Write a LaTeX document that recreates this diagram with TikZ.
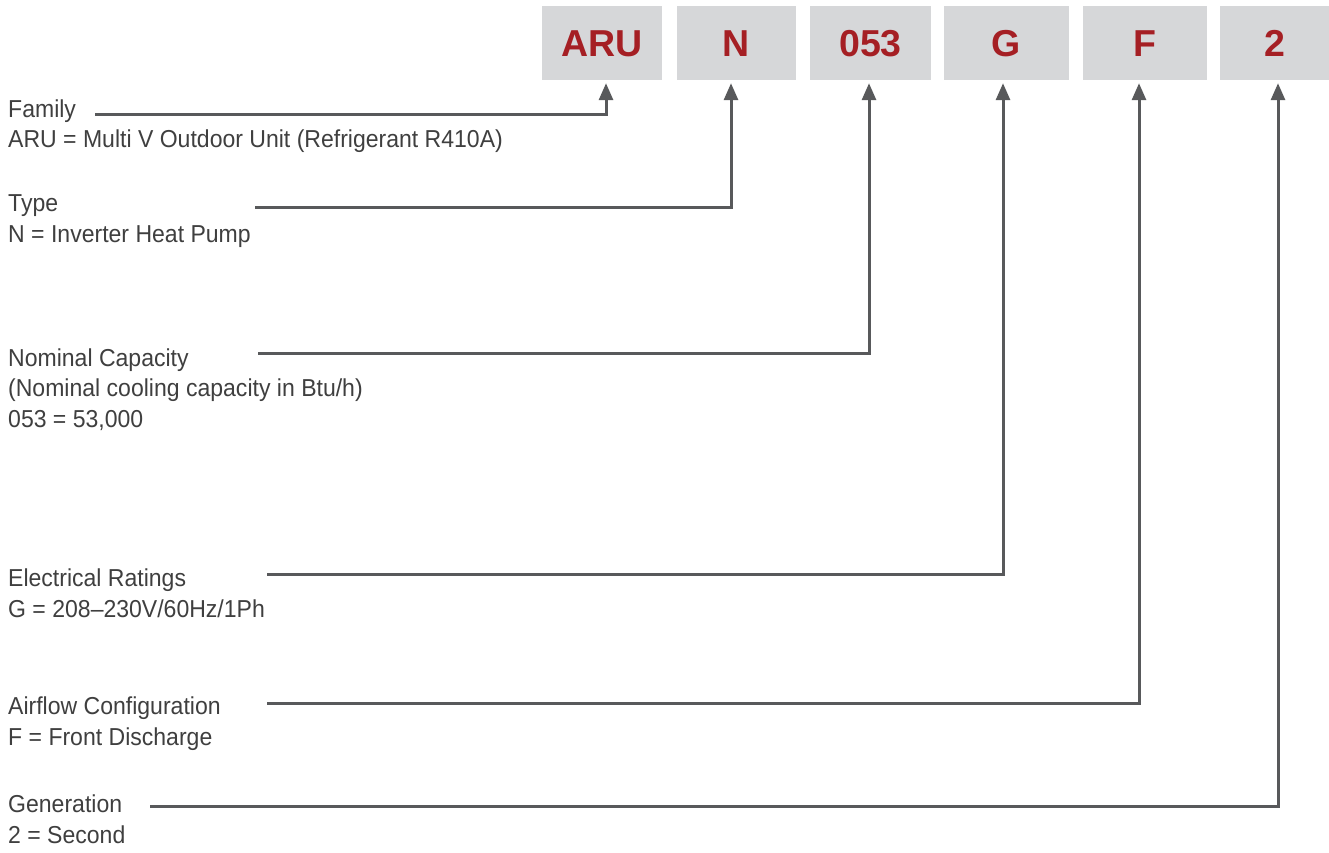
\documentclass[tikz,border=0pt]{standalone}
\usepackage{fontspec}
\setmainfont{Liberation Sans}[FakeStretch=0.94]
\newfontfamily\codefont{Liberation Sans}
\usetikzlibrary{arrows.meta, positioning}
\definecolor{lgbox}{HTML}{D6D7D9}
\definecolor{lgred}{HTML}{A51F24}
\definecolor{lgtext}{HTML}{3F3F3F}
\definecolor{lgline}{HTML}{58595B}

\begin{document}
\begin{tikzpicture}[
  x=1pt, y=-1pt,
  code/.style={fill=lgbox, minimum height=74pt, inner sep=0pt, text=lgred,
    text height=27pt, text depth=0pt,
    font=\codefont\fontsize{37.5}{40}\selectfont\bfseries},
  desc/.style={anchor=base west, align=left, inner sep=0pt, text=lgtext,
    font=\fontsize{24.5}{30.5}\selectfont},
  arr/.style={lgline, line width=3pt, -{Triangle[length=17pt,width=14pt]},
    shorten >=3pt}
]
  \useasboundingbox (0,0) rectangle (1329,852);
  % model code boxes
  \node[code, minimum width=120pt] (aru)  at (602,43)    {ARU};
  \node[code, minimum width=119pt] (typ)  at (736.5,43)  {N};
  \node[code, minimum width=121pt] (cap)  at (870.5,43)  {053};
  \node[code, minimum width=125pt] (elec) at (1006.5,43) {G};
  \node[code, minimum width=124pt] (air)  at (1145,43)   {F};
  \node[code, minimum width=110pt] (gen)  at (1275,43)   {2};
  % descriptions (anchored on the last line)
  \node[desc] (famtxt)  at (8,147.5) {Family\\ARU = Multi V Outdoor Unit (Refrigerant R410A)};
  \node[desc] (typtxt)  at (8,242)   {Type\\N = Inverter Heat Pump};
  \node[desc] (captxt)  at (8,427)   {Nominal Capacity\\(Nominal cooling capacity in Btu/h)\\053 = 53,000};
  \node[desc] (electxt) at (8,617)   {Electrical Ratings\\G = 208--230V/60Hz/1Ph};
  \node[desc] (airtxt)  at (8,745)   {Airflow Configuration\\F = Front Discharge};
  \node[desc] (gentxt)  at (8,843)   {Generation\\2 = Second};
  \coordinate (famstart)  at (95,114);
  \coordinate (typstart)  at (255,207);
  \coordinate (capstart)  at (258,353);
  \coordinate (elecstart) at (267,574);
  \coordinate (airstart)  at (267,703);
  \coordinate (genstart)  at (150,806);
  \draw[arr] (famstart)  -| ([xshift=4pt]aru.south);
  \draw[arr] (typstart)  -| ([xshift=-5.5pt]typ.south);
  \draw[arr] (capstart)  -| ([xshift=-1.5pt]cap.south);
  \draw[arr] (elecstart) -| ([xshift=-3.5pt]elec.south);
  \draw[arr] (airstart)  -| ([xshift=-6pt]air.south);
  \draw[arr] (genstart)  -| ([xshift=3pt]gen.south);
\end{tikzpicture}
\end{document}
